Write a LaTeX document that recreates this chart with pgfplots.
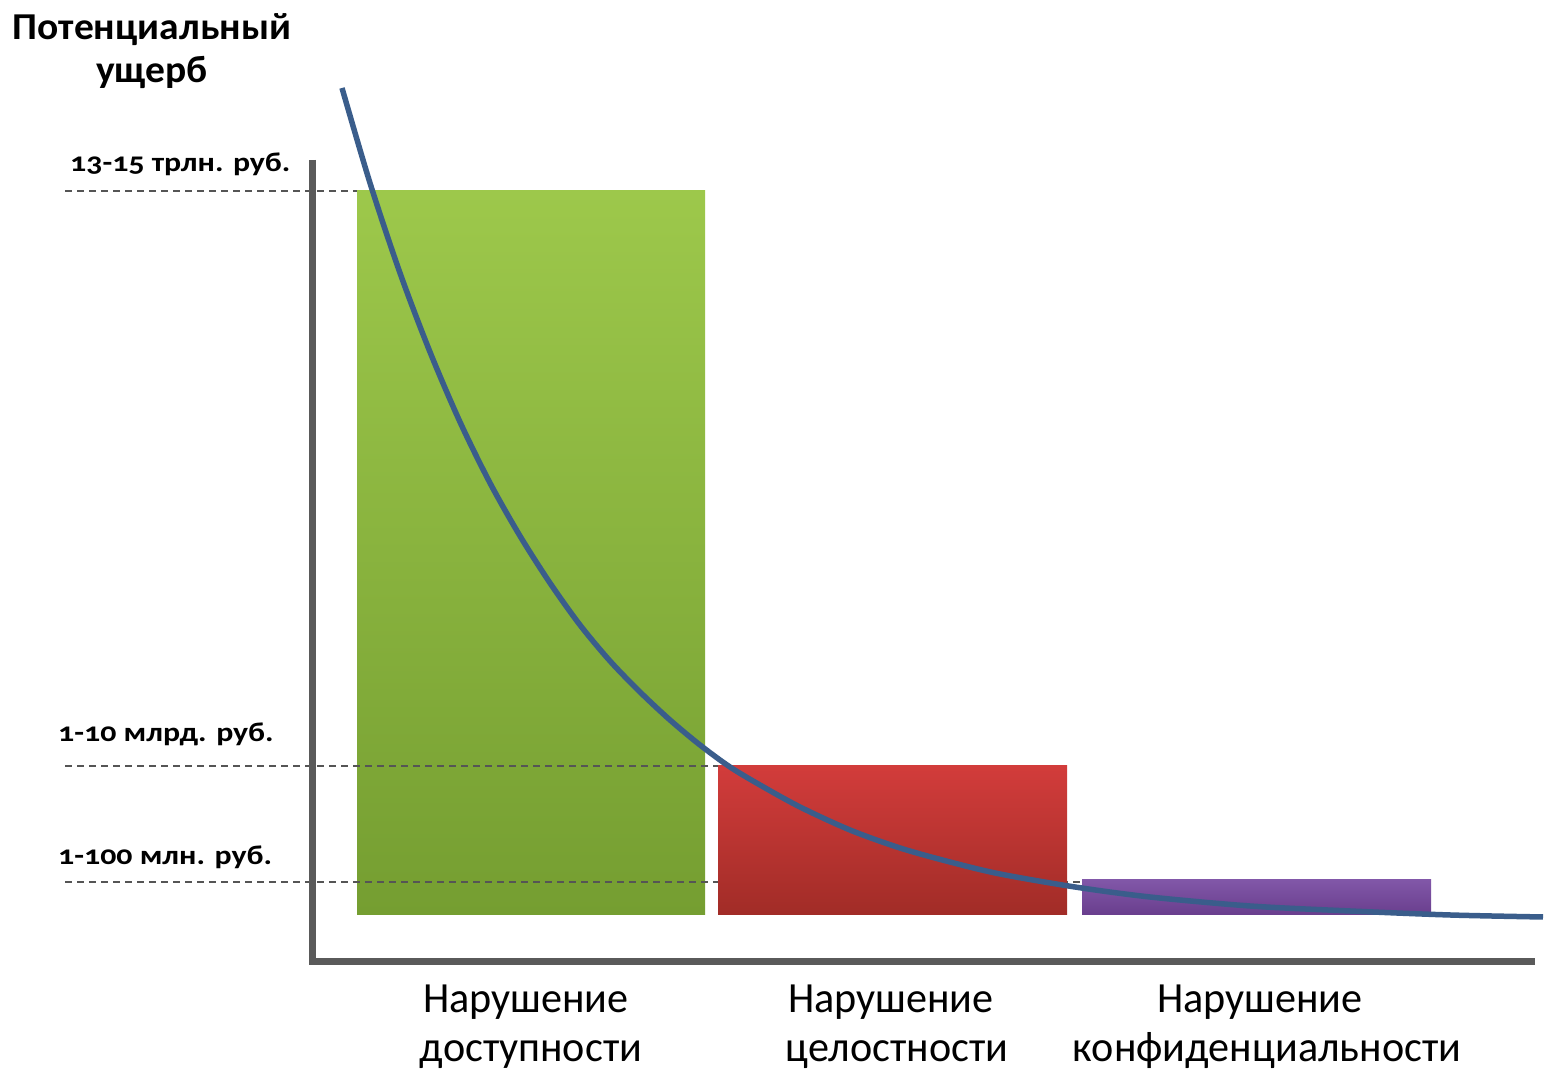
\documentclass[border=0pt]{standalone}
\usepackage{fontspec}
\setmainfont{Carlito}
\newfontfamily\titlefont[FakeStretch=1.04]{Carlito}
\newfontfamily\tickfont[Numbers=OldStyle,FakeStretch=1.18]{Carlito}
\newfontfamily\catfont[FakeStretch=0.98]{Carlito}
\usepackage{pgfplots}
\pgfplotsset{compat=1.18}
\definecolor{gtop}{HTML}{9DC84B}
\definecolor{gbot}{HTML}{759E31}
\definecolor{rtop}{HTML}{D23C3B}
\definecolor{rbot}{HTML}{A12C27}
\definecolor{ptop}{HTML}{8157A8}
\definecolor{pbot}{HTML}{693E8D}
\definecolor{curve}{HTML}{3A5D8B}
\definecolor{axgrey}{HTML}{5A5A5A}
\definecolor{dashgrey}{HTML}{555555}
\begin{document}
\begin{tikzpicture}
\begin{axis}[
  scale only axis, width=1547bp, height=1072bp,
  xmin=0, xmax=1547, ymin=0, ymax=1072,
  hide axis, clip=false,
]
\path (rel axis cs:0,0) rectangle (rel axis cs:1,1);
% bars
\addplot[draw=none, top color=gtop, bottom color=gbot] coordinates {(357,157) (705,157) (705,881) (357,881)} -- cycle;
% dashed reference lines
\addplot[dashgrey, line width=1.4bp, dash pattern=on 7bp off 5bp] coordinates {(65,881) (357,881)};
\addplot[dashgrey, line width=1.4bp, dash pattern=on 7bp off 5bp] coordinates {(65,306) (718,306)};
\addplot[dashgrey, line width=1.4bp, dash pattern=on 7bp off 5bp] coordinates {(65,190) (1082,190)};
\addplot[draw=none, top color=rtop, bottom color=rbot] coordinates {(718,157) (1067,157) (1067,306) (718,306)} -- cycle;
\addplot[draw=none, top color=ptop, bottom color=pbot] coordinates {(1082,157) (1431,157) (1431,192) (1082,192)} -- cycle;
% axis lines
\addplot[axgrey, line width=7bp] coordinates {(312,912) (312,110) (1535,110)};
% curve
\addplot[curve, line width=5.5bp, smooth] coordinates {
(342,984) (370,889) (400,799) (430,720) (460,650) (490,589) (520,536) (550,489)
(580,447) (610,411) (640,380) (670,352) (700,327) (730,305) (760,287) (800,265)
(850,242) (900,224) (950,210) (1000,198) (1075,185) (1150,175) (1250,166)
(1350,161) (1450,157) (1543,155)};
% texts
\node[anchor=base, inner sep=0, font=\titlefont\bfseries\fontsize{38bp}{40bp}\selectfont] at (axis cs:152,1032) {Потенциальный};
\node[anchor=base, inner sep=0, font=\titlefont\bfseries\fontsize{38bp}{40bp}\selectfont] at (axis cs:152,989) {ущерб};
\node[anchor=base west, inner sep=0, font=\tickfont\bfseries\fontsize{27bp}{30bp}\selectfont] at (axis cs:70,900) {13-15 трлн. руб.};
\node[anchor=base west, inner sep=0, font=\tickfont\bfseries\fontsize{27bp}{30bp}\selectfont] at (axis cs:58,330) {1-10 млрд. руб.};
\node[anchor=base west, inner sep=0, font=\tickfont\bfseries\fontsize{27bp}{30bp}\selectfont] at (axis cs:58,207) {1-100 млн. руб.};
\node[anchor=base, inner sep=0, font=\catfont\fontsize{43bp}{46bp}\selectfont] at (axis cs:526,59) {Нарушение};
\node[anchor=base, inner sep=0, font=\catfont\fontsize{43bp}{46bp}\selectfont] at (axis cs:531,10) {доступности};
\node[anchor=base, inner sep=0, font=\catfont\fontsize{43bp}{46bp}\selectfont] at (axis cs:891,59) {Нарушение};
\node[anchor=base, inner sep=0, font=\catfont\fontsize{43bp}{46bp}\selectfont] at (axis cs:897,10) {целостности};
\node[anchor=base, inner sep=0, font=\catfont\fontsize{43bp}{46bp}\selectfont] at (axis cs:1260,59) {Нарушение};
\node[anchor=base, inner sep=0, font=\catfont\fontsize{43bp}{46bp}\selectfont] at (axis cs:1267,10) {конфиденциальности};
\end{axis}
\end{tikzpicture}
\end{document}
